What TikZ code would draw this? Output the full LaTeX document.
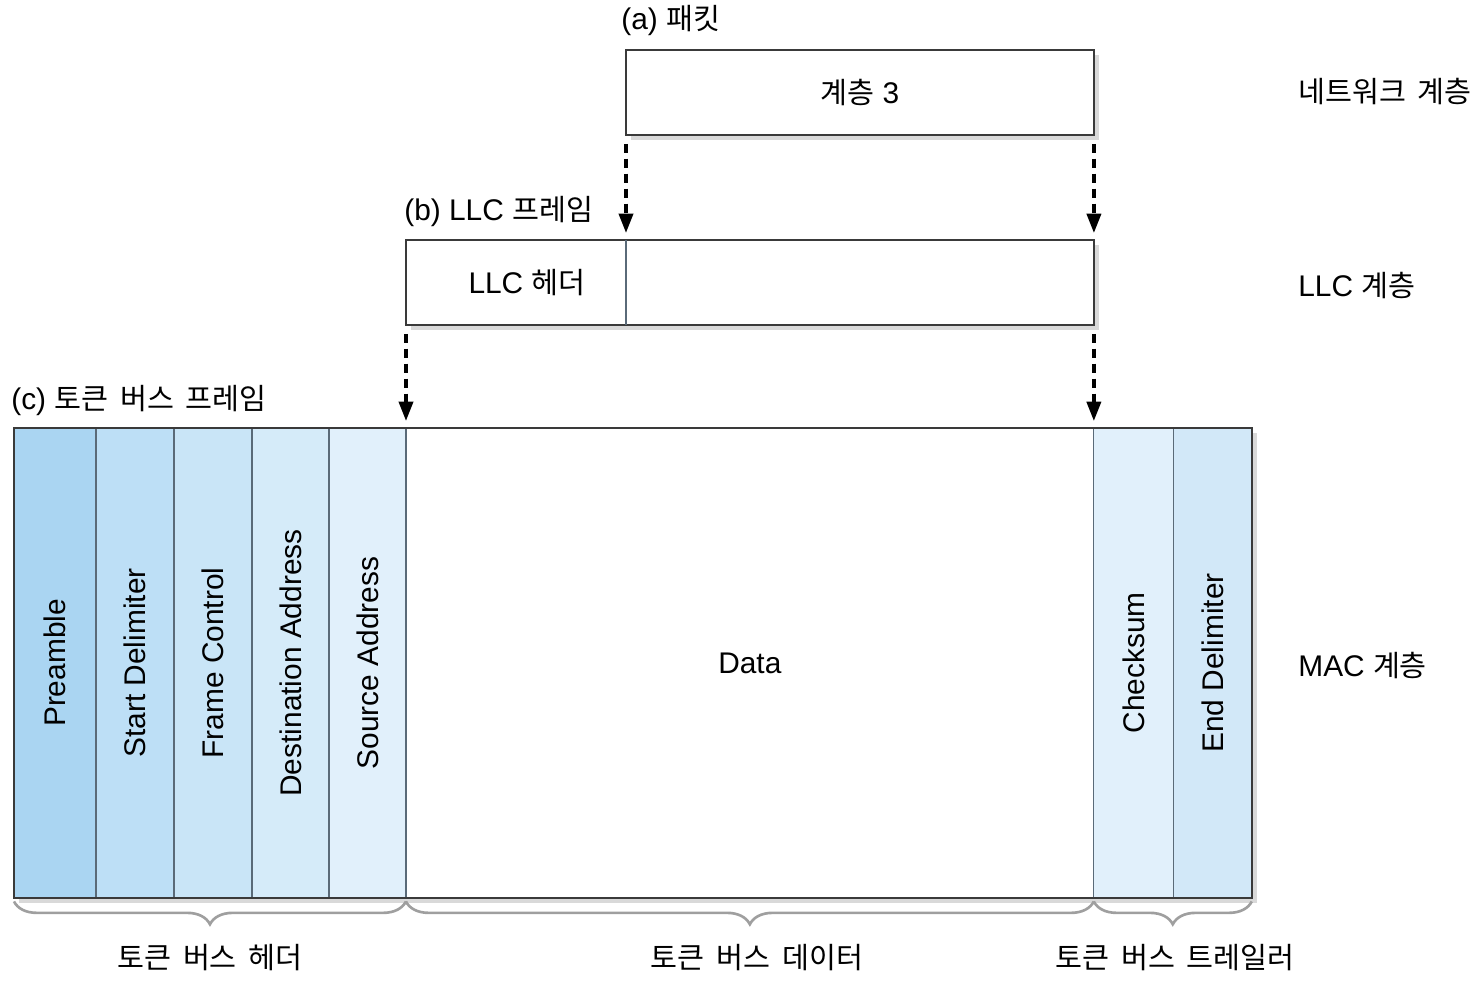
\documentclass[tikz,border=0pt]{standalone}
\usepackage{fontspec}
\setmainfont{Liberation Sans}
\newfontfamily\kr{Noto Sans CJK KR}[Scale=0.98, WordSpace=1.8]
\usepackage{xcolor}
\usetikzlibrary{positioning, arrows.meta, shadows, decorations.pathreplacing}

\definecolor{edgec}{HTML}{3A3A3A}
\definecolor{divc}{HTML}{5A6A78}
\definecolor{fpre}{HTML}{AAD5F2}
\definecolor{fsd}{HTML}{BDDFF6}
\definecolor{ffc}{HTML}{C9E5F7}
\definecolor{fda}{HTML}{D5EBF9}
\definecolor{fsa}{HTML}{E1F0FB}
\definecolor{fcs}{HTML}{E1F0FB}
\definecolor{fed}{HTML}{D2E8F8}

\begin{document}
\begin{tikzpicture}[
        x=0.02cm, y=-0.02cm,
        font=\fontsize{17}{20}\selectfont,
        node distance=0pt,
        box/.style={draw=edgec, line width=1.2pt, fill=white, inner sep=0pt, outer sep=0pt, minimum height=1.7cm,
            drop shadow={shadow xshift=3pt, shadow yshift=-3pt, opacity=0.3}},
        field/.style={draw=divc, line width=0.7pt, inner sep=0pt, outer sep=0pt, minimum height=9.4cm},
        edgeline/.style={draw=edgec, line width=1.2pt},
        dasharr/.style={-{Triangle[length=11pt, width=8pt]}, line width=2pt, dash pattern=on 5.5pt off 3pt,
            shorten <=5pt, shorten >=4pt},
        brc/.style={decorate, decoration={brace, amplitude=13pt, mirror}, draw=gray!75, line width=1.5pt},
        lbl/.style={anchor=west, inner sep=0pt}
    ]
    \useasboundingbox (0,0) rectangle (1480,1002);

    % titles and layers
    \node[lbl] (ttla) at (621,20) {(a) {\kr 패킷}};
    \node[lbl] (ttlb) at (404,211) {(b) LLC {\kr 프레임}};
    \node[lbl] (ttlc) at (11,400) {(c) {\kr 토큰 버스 프레임}};
    \node[lbl] (lnet) at (1298,92) {\kr 네트워크 계층};
    \node[lbl] (lllc) at (1298,285) {LLC {\kr 계층}};
    \node[lbl] (lmac) at (1298,665) {MAC {\kr 계층}};

    % packet and LLC frame
    \node[box, minimum width=9.36cm, anchor=north west] (pkt) at (626,50) {{\kr 계층} 3};
    \node[box, minimum width=13.76cm, anchor=north west] (llc) at (406,240) {};
    \draw[draw=divc, line width=0.7pt] (pkt.south west |- llc.north) -- (pkt.south west |- llc.south);
    \node (llchdr) at (527,283) {LLC {\kr 헤더}};

    \draw[dasharr] (pkt.south west) -- (pkt.south west |- llc.north);
    \draw[dasharr] (pkt.south east) -- (pkt.south east |- llc.north);

    % token bus frame
    \node[box, minimum width=24.76cm, minimum height=9.4cm, anchor=north west] (frame) at (14,428) {};
    \node[field, fill=fpre, minimum width=1.64cm, anchor=north west] (pre) at (frame.north west) {\rotatebox{90}{Preamble}};
    \node[field, fill=fsd, minimum width=1.56cm, right=of pre] (sd) {\rotatebox{90}{Start Delimiter}};
    \node[field, fill=ffc, minimum width=1.56cm, right=of sd] (fc) {\rotatebox{90}{Frame Control}};
    \node[field, fill=fda, minimum width=1.54cm, right=of fc] (da) {\rotatebox{90}{Destination Address}};
    \node[field, fill=fsa, minimum width=1.54cm, right=of da] (sa) {\rotatebox{90}{Source Address}};
    \node[field, fill=white, minimum width=13.76cm, right=of sa] (data) {Data};
    \node[field, fill=fcs, minimum width=1.6cm, right=of data] (cs) {\rotatebox{90}{Checksum}};
    \node[field, fill=fed, minimum width=1.56cm, right=of cs] (ed) {\rotatebox{90}{End Delimiter}};
    \draw[edgeline] (frame.north west) rectangle (frame.south east);

    \draw[dasharr] (llc.south west) -- (llc.south west |- frame.north);
    \draw[dasharr] (llc.south east) -- (llc.south east |- frame.north);

    % braces
    \draw[brc] ([yshift=-2pt]pre.south west) -- ([yshift=-2pt]sa.south east);
    \draw[brc] ([yshift=-2pt]data.south west) -- ([yshift=-2pt]data.south east);
    \draw[brc] ([yshift=-2pt]cs.south west) -- ([yshift=-2pt]ed.south east);

    \node (hdrlbl) at (210,958) {\kr 토큰 버스 헤더};
    \node (datlbl) at (757,958) {\kr 토큰 버스 데이터};
    \node (trllbl) at (1175,958) {\kr 토큰 버스 트레일러};

\end{tikzpicture}
\end{document}
